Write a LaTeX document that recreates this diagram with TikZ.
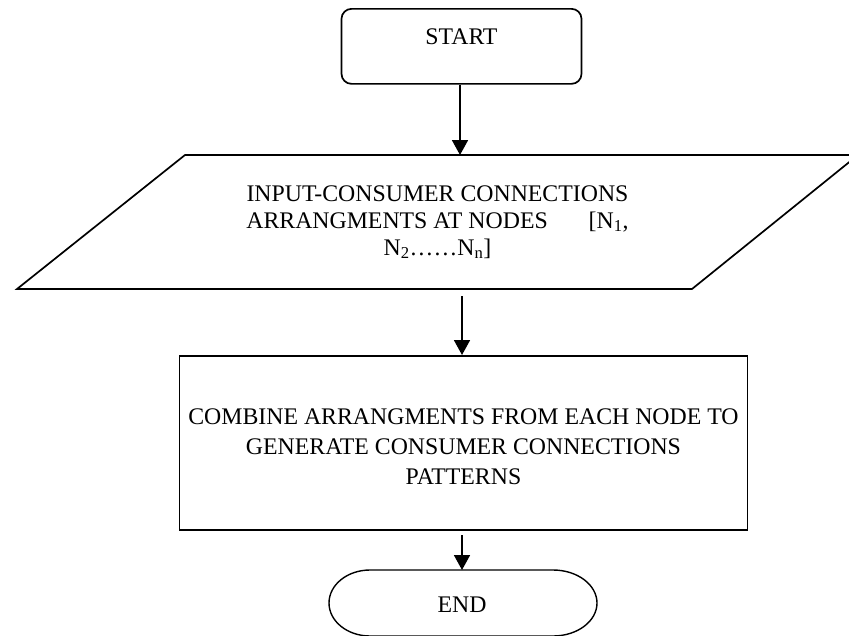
\documentclass[tikz,border=0pt]{standalone}
\usepackage{fontspec}
\setmainfont{Liberation Serif}
\usetikzlibrary{arrows.meta}
\begin{document}
\begin{tikzpicture}[x=1pt,y=-1pt,
  box/.style={draw, line width=1.7pt},
  thin/.style={draw, line width=1.4pt},
  lbl/.style={font=\fontsize{23.8}{27}\selectfont, align=center, inner sep=0pt},
  lblb/.style={font=\fontsize{23.8}{30}\selectfont, align=center, inner sep=0pt},
  conn/.style={line width=1.8pt, -{Triangle[length=15pt,width=16pt]}}]
\useasboundingbox (0,0) rectangle (849,635);
\clip (0,0) rectangle (849,635);
% START
\node[box, rounded corners=10pt, minimum width=240pt, minimum height=75pt, anchor=north] (start) at (461.5,8) {};
\node[lbl] (starttxt) at (461.5,37) {START};
% input parallelogram
\draw[box] (185,155) -- (858,155) -- (692,289) -- (17,289) -- cycle;
\coordinate (ptop) at (460,155);
\coordinate (pbot) at (462,296);
\node[lbl] (inputtxt) at (437.5,222) {INPUT-CONSUMER CONNECTIONS\\ARRANGMENTS AT NODES\hspace{35pt} [N\textsubscript{1},\\N\textsubscript{2}……N\textsubscript{n}]};
% process
\node[box, minimum width=568pt, minimum height=174pt, anchor=north] (proc) at (463.5,355) {};
\node[lblb] (proctxt) at (463.5,447) {COMBINE ARRANGMENTS FROM EACH NODE TO\\GENERATE CONSUMER CONNECTIONS\\PATTERNS};
\coordinate (pbot2) at (462,535);
% END
\draw[thin] (370,570) -- (553,570) arc[start angle=-90, end angle=90, x radius=44, y radius=33] -- (370,636) arc[start angle=90, end angle=270, x radius=41, y radius=33] -- cycle;
\coordinate (endtop) at (462,570);
\node[lbl] (endtxt) at (462,605) {END};
% connectors
\draw[conn] (start.south -| ptop) -- (ptop);
\draw[conn] (pbot) -- (pbot |- proc.north);
\draw[conn] (pbot2) -- (endtop);
\end{tikzpicture}
\end{document}
